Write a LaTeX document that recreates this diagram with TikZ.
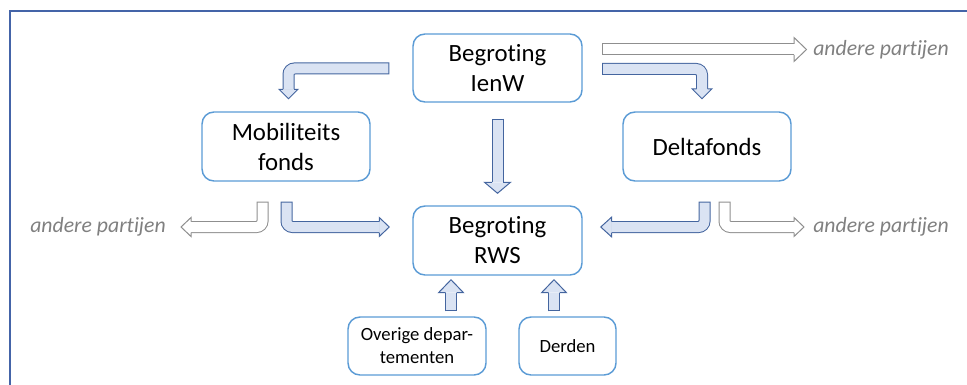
\documentclass[tikz,border=0pt]{standalone}
\usepackage{fontspec}
\setmainfont{Carlito}[Ligatures=NoCommon]
\usepackage{tikz}
\usetikzlibrary{calc}

\definecolor{boxblue}{HTML}{5B9BD5}
\definecolor{arrowdark}{HTML}{44659F}
\definecolor{arrowlight}{HTML}{DAE3F3}
\definecolor{greyline}{HTML}{8F8F8F}
\definecolor{textgrey}{HTML}{808080}
\definecolor{frameblue}{HTML}{4464A8}

\tikzset{
  box/.style={draw=boxblue, line width=1.1pt, rounded corners=9pt, align=center, inner sep=0pt},
  bigbox/.style={box, font=\fontsize{18.6}{22.5}\selectfont},
  smallbox/.style={box, font=\fontsize{14}{17.25}\selectfont},
  partij/.style={text=textgrey, inner sep=0pt, font=\fontsize{16.3}{19}\selectfont\itshape},
  blueshaft/.style={draw=arrowdark, line width=9pt, rounded corners=4.5pt,
    postaction={draw=arrowlight, line width=7.5pt, shorten <=0.75pt}},
  greyshaft/.style={draw=greyline, line width=9pt, rounded corners=4.5pt,
    postaction={draw=white, line width=7.5pt, shorten <=0.75pt}},
  bluehead/.style={draw=arrowdark, fill=arrowlight, line width=0.75pt},
  greyhead/.style={draw=greyline, fill=white, line width=0.75pt},
  pics/blockhead/.style args={#1/#2}{code={
    \filldraw (0,-5.5) -- (0,-#1) -- (#2,0) -- (0,#1) -- (0,5.5);
  }},
}

\begin{document}
\begin{tikzpicture}[x=0.75pt,y=0.75pt,yscale=-1,xscale=1]
\useasboundingbox (0,0) rectangle (967,385);

%Straight Lines: frame
\draw[frameblue, line width=1.5pt] (967,11.5) -- (9.5,11.5) -- (9.5,385);

%Shape: boxes
\node[bigbox, minimum width=126.75pt, minimum height=51pt] (ienw) at (497.5,68) {Begroting\\IenW};
\node[bigbox, minimum width=126.75pt, minimum height=51.75pt] (rws) at (497.5,240.5) {Begroting\\RWS};
\node[bigbox, minimum width=126pt, minimum height=51.75pt] (mob) at (286,146.5) {Mobiliteits\\fonds};
\node[bigbox, minimum width=126pt, minimum height=51.75pt] (delta) at (707,146.5) {Deltafonds};
\node[smallbox, minimum width=103.5pt, minimum height=43.5pt] (overige) at (417,346) {Overige depar-\\tementen};
\node[smallbox, minimum width=72.75pt, minimum height=43.5pt] (derden) at (567.5,346) {Derden};

% Text Node
\node[partij, anchor=west] (apTop) at (813,49.5) {andere partijen};
\node[partij, anchor=east] (apLeft) at (166,227) {andere partijen};
\node[partij, anchor=west] (apRight) at (813,227) {andere partijen};

%Block arrows from IenW
\draw[blueshaft] ($(ienw.south)+(0,16)$) -- ($(rws.north)+(0,-23)$);
\pic[bluehead, rotate=-90] at ($(rws.north)+(0,-23)$) {blockhead=13/11};
\draw[blueshaft] ($(ienw.west)+(-23,0.5)$) -| ($(mob.north)+(2.5,-22)$);
\pic[bluehead, rotate=-90] at ($(mob.north)+(2.5,-22)$) {blockhead=9.5/9.5};
\draw[blueshaft] ($(ienw.east)+(19.5,1)$) -| ($(delta.north)+(-5,-22.5)$);
\pic[bluehead, rotate=-90] at ($(delta.north)+(-5,-22.5)$) {blockhead=10/10};
\draw[greyshaft] ($(ienw.east)+(19.5,-18.5)$) -- ($(apTop.west)+(-19,0)$);
\pic[greyhead] at ($(apTop.west)+(-19,0)$) {blockhead=12/12.5};

%Block arrows from Mobiliteitsfonds
\draw[blueshaft] ($(mob.south)+(0.5,20)$) |- ($(rws.west)+(-33,-13.5)$);
\pic[bluehead] at ($(rws.west)+(-33,-13.5)$) {blockhead=9.5/10};
\draw[greyshaft] ($(mob.south)+(-23.5,20)$) |- ($(apLeft.east)+(25,0)$);
\pic[greyhead, rotate=180] at ($(apLeft.east)+(25,0)$) {blockhead=9.5/10};

%Block arrows from Deltafonds
\draw[blueshaft] ($(delta.south)+(-2.5,20)$) |- ($(rws.east)+(29,-13.5)$);
\pic[bluehead, rotate=180] at ($(rws.east)+(29,-13.5)$) {blockhead=10/11};
\draw[greyshaft] ($(delta.south)+(17.5,20)$) |- ($(apRight.west)+(-19,0)$);
\pic[greyhead] at ($(apRight.west)+(-19,0)$) {blockhead=9.5/10};

%Block arrows into RWS
\draw[blueshaft] ($(overige.north)+(34,-5)$) -- ($(rws.south)+(-46.5,17)$);
\pic[bluehead, rotate=90] at ($(rws.south)+(-46.5,17)$) {blockhead=12.5/13};
\draw[blueshaft] ($(derden.north)+(-13.5,-5)$) -- ($(rws.south)+(56.5,17)$);
\pic[bluehead, rotate=90] at ($(rws.south)+(56.5,17)$) {blockhead=12.5/13};

\end{tikzpicture}
\end{document}
